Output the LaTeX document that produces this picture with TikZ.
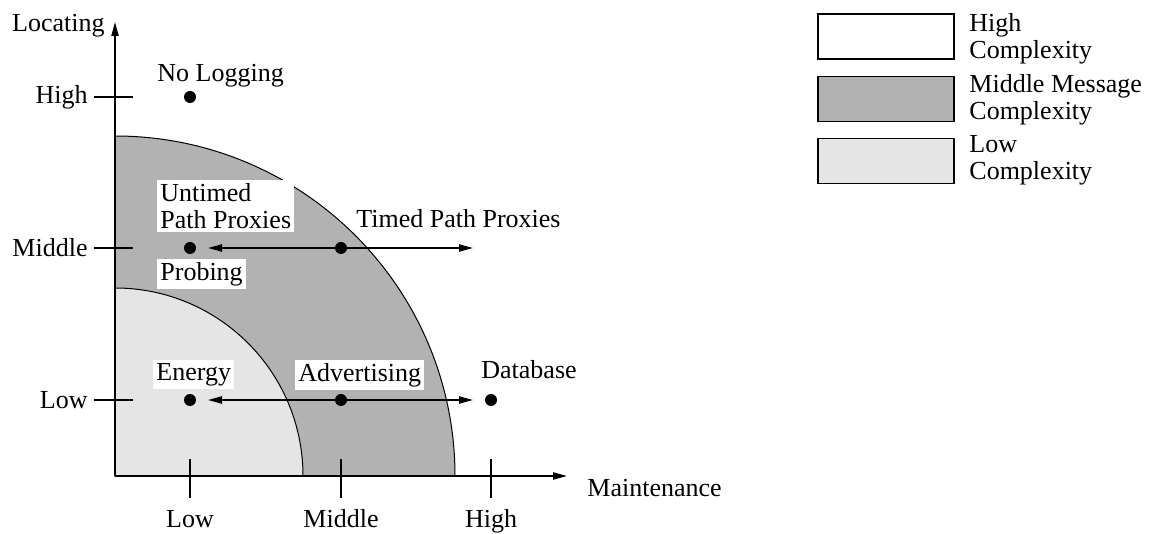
\documentclass[tikz,border=0pt]{standalone}
\usepackage{fontspec}
\setmainfont{Liberation Serif}
\usetikzlibrary{arrows.meta}
\definecolor{midgray}{gray}{0.70}
\definecolor{lowgray}{gray}{0.90}
\begin{document}
\begin{tikzpicture}[x=0.5pt, y=0.5pt,
        font=\fontsize{13}{13.75}\selectfont,
        >={Triangle[length=7pt,width=3.6pt]},
        axis/.style={line width=0.8pt},
        dot/.style={circle, fill=black, inner sep=0pt, minimum size=6pt},
        lbl/.style={inner sep=0pt},
        boxlbl/.style={fill=white, inner sep=1.5pt, align=left},
        keybox/.style={draw, line width=0.8pt, minimum width=68pt, minimum height=22.5pt, inner sep=0pt}]
            \useasboundingbox (-115,-58) rectangle (1035,476);
            % complexity regions
            \filldraw [fill=midgray, line width=0.5pt] (0,0) -- (340,0) arc[start angle=0, end angle=90, radius=170pt] -- cycle;
            \filldraw [fill=lowgray, line width=0.5pt] (0,0) -- (188,0) arc[start angle=0, end angle=90, radius=94pt] -- cycle;
            % axes
            \coordinate (O) at (0,0);
            \coordinate (yTip) at (0,454);
            \coordinate (xTip) at (452,0);
            \draw [axis, ->] (O) -- (yTip);
            \draw [axis, ->] (O) -- (xTip);
            \node [lbl, anchor=base east] (locating) at (-10,444) {Locating};
            \node [lbl, anchor=base west] (maint) at (472,-21) {Maintenance};
            \draw [axis] (75,17) -- (75,-22);
            \draw [axis] (226,17) -- (226,-22);
            \draw [axis] (376,17) -- (376,-22);
            \draw [axis] (-21,76) -- (18,76);
            \draw [axis] (-21,228) -- (18,228);
            \draw [axis] (-21,379) -- (18,379);
            \node [lbl, anchor=base] (xLow) at (75,-52) {Low};
            \node [lbl, anchor=base] (xMid) at (226,-52) {Middle};
            \node [lbl, anchor=base] (xHigh) at (376,-52) {High};
            \node [lbl, anchor=east] (yLow) at (-27,76) {Low};
            \node [lbl, anchor=east] (yMid) at (-27,228) {Middle};
            \node [lbl, anchor=east] (yHigh) at (-27,379) {High};
            % protocols
            \node [dot] (nolog) at (75,379) {};
            \node [dot] (untimed) at (75,228) {};
            \node [dot] (timed) at (226,228) {};
            \node [dot] (energy) at (75,76) {};
            \node [dot] (advert) at (226,76) {};
            \node [dot] (database) at (376,76) {};
            \coordinate (timedL) at (93,228);
            \coordinate (timedR) at (358,228);
            \coordinate (advertL) at (93,76);
            \coordinate (advertR) at (358,76);
            \draw [axis, ->] (timed.center) -- (timedL);
            \draw [axis, ->] (timed.center) -- (timedR);
            \draw [axis, ->] (advert.center) -- (advertL);
            \draw [axis, ->] (advert.center) -- (advertR);
            \node [lbl, anchor=base west] (lblNoLog) at (42,394) {No Logging};
            \node [boxlbl, anchor=north west] (lblUntimed) at (42,296) {Untimed\\Path Proxies};
            \node [boxlbl, anchor=north west] (lblProbing) at (42,217) {Probing};
            \node [lbl, anchor=base west] (lblTimed) at (241,248) {Timed Path Proxies};
            \node [boxlbl, anchor=north west] (lblEnergy) at (38,116) {Energy};
            \node [boxlbl, anchor=north west] (lblAdvert) at (180,116) {Advertising};
            \node [lbl, anchor=base west] (lblDatabase) at (366,97) {Database};
            % legend
            \node [keybox, fill=white] (keyHigh) at (771,439.5) {};
            \node [keybox, fill=midgray] (keyMid) at (771,377) {};
            \node [keybox, fill=lowgray] (keyLow) at (771,315) {};
            \node [lbl, anchor=north west, align=left] (txtHigh) at (854,463) {High\\Complexity};
            \node [lbl, anchor=north west, align=left] (txtMid) at (854,402) {Middle Message\\Complexity};
            \node [lbl, anchor=north west, align=left] (txtLow) at (854,341) {Low\\Complexity};
        \end{tikzpicture}
\end{document}
